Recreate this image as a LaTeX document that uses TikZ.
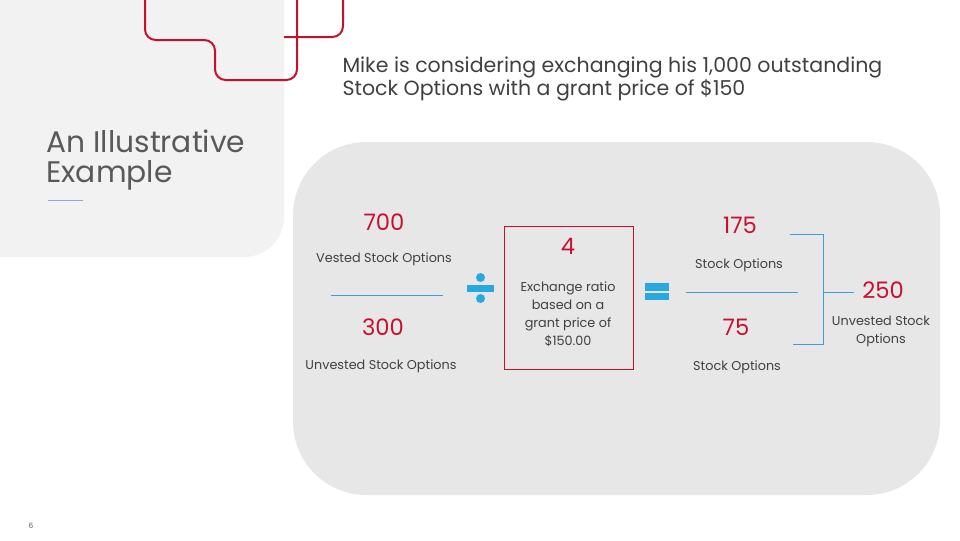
\documentclass[tikz,border=0pt]{standalone}
\usepackage{fontspec}
\setmainfont{Poppins}
\definecolor{exred}{RGB}{200,16,46}
\definecolor{txtgrey}{RGB}{64,64,64}
\definecolor{titlegrey}{RGB}{89,89,89}
\definecolor{lightpanel}{RGB}{242,242,242}
\definecolor{midpanel}{RGB}{231,231,231}
\definecolor{lineblue}{RGB}{60,158,212}
\definecolor{symblue}{RGB}{41,168,224}
\definecolor{accentblue}{RGB}{142,169,219}
\tikzset{every picture/.style={line width=0.75pt}}
\tikzset{
	num/.style={text=exred,font=\fontsize{17}{19}\selectfont},
	lbl/.style={text=txtgrey,font=\fontsize{9.6}{13.5}\selectfont,align=center},
	rule/.style={draw=lineblue,line width=0.75pt},
	redline/.style={draw=exred,line width=1.5pt,rounded corners=8}}

\begin{document}
\begin{tikzpicture}[x=0.75pt,y=0.75pt,yscale=-1,xscale=1]
	\useasboundingbox (0,0) rectangle (960,540);
	\clip (0,0) rectangle (960,540);

	%Shape: left panel
	\fill[lightpanel,rounded corners=30] (-50,-50) -- (284,-50) -- (284,257) -- (-50,257) -- cycle;
	%Shape: main panel
	\fill[midpanel,rounded corners=55] (293,142) rectangle (940,495);

	%Red lines
	\draw[redline] (145,-5) -- (145,40) -- (215,40) -- (215,80) -- (297,80) -- (297,-5);
	\draw[redline] (284,37) -- (343,37) -- (343,-5);

	% Title
	\node[anchor=base west,inner sep=0pt,text=titlegrey,font=\fontsize{22.3}{22.5}\selectfont,align=left] (title) at (46,182) {An Illustrative\\Example};
	\draw[accentblue] (48,200) -- (83,200);

	% Intro text
	\node[anchor=base west,inner sep=0pt,text=txtgrey,font=\fontsize{15.4}{17.25}\selectfont,align=left] (intro) at (342,95) {Mike is considering exchanging his 1,000 outstanding\\Stock Options with a grant price of \$150};

	% Left column
	\node[num] (vested) at (384,222) {700};
	\node[lbl] (vestedlbl) at (384,259.5) {Vested Stock Options};
	\coordinate (la) at (331,295);
	\coordinate (lb) at (443,295);
	\draw[rule] (la) -- (lb);
	\node[num] (unvested) at (383,327) {300};
	\node[lbl] (unvestedlbl) at (381,366.5) {Unvested Stock Options};

	% Divide symbol
	\fill[symblue] (467,284.5) rectangle (494,291.5);
	\fill[symblue] (480.5,277.5) circle (4.5);
	\fill[symblue] (480.5,298.5) circle (4.5);

	% Ratio box
	\draw[exred] (504,226) rectangle (633,369);
	\node[num] (ratio) at (568,246) {4};
	\node[lbl] (ratiolbl) at (568,314) {Exchange ratio\\based on a\\grant price of\\\$150.00};

	% Equals symbol
	\fill[symblue] (645,283) rectangle (669,290.5);
	\fill[symblue] (645,292.5) rectangle (669,300);

	% Right column
	\node[num] (newa) at (740,225) {175};
	\node[lbl] (newalbl) at (739,265.5) {Stock Options};
	\coordinate (ra) at (686,292);
	\coordinate (rb) at (798,292);
	\draw[rule] (ra) -- (rb);
	\node[num] (newb) at (736,327) {75};
	\node[lbl] (newblbl) at (737,367.5) {Stock Options};

	% Bracket
	\coordinate (bt) at (790,234);
	\coordinate (bb) at (793,344);
	\coordinate (bm) at (854,292);
	\draw[rule] (bt) -| (823,344) -- (bb);
	\draw[rule] (823,292) -- (bm);
	\node[num] (total) at (883,290) {250};
	\node[lbl] (totallbl) at (881,331) {Unvested Stock\\Options};

	% Page number
	\node[text=titlegrey,font=\fontsize{5.5}{6}\selectfont] (page) at (31,526) {6};
\end{tikzpicture}
\end{document}
